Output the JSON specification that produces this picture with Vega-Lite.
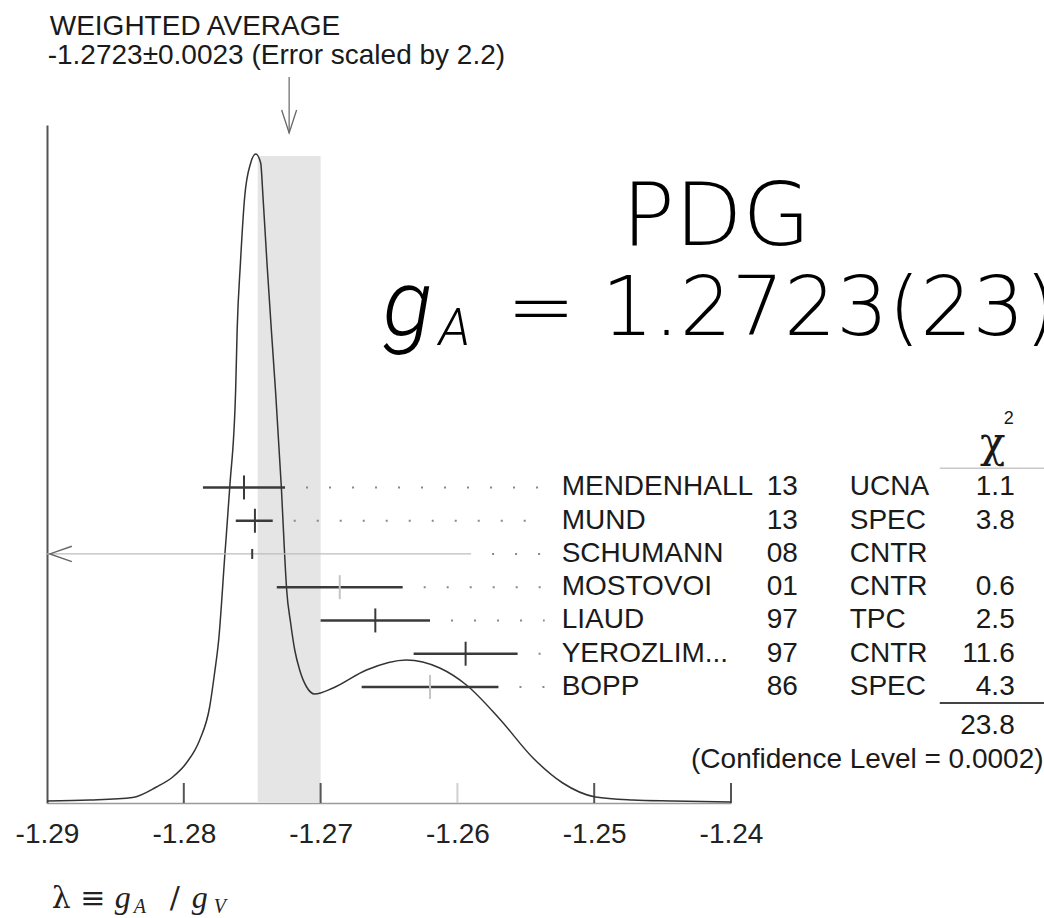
{
  "$schema": "https://vega.github.io/schema/vega-lite/v6.json",
  "width": 684,
  "height": 678,
  "autosize": {"type": "none"},
  "padding": {"left": 47, "top": 125, "right": 313, "bottom": 115},
  "background": "white",
  "config": {"view": {"stroke": null}, "axis": {"grid": false}},
  "datasets": {
    "ideogram": [
      {"x": -1.29, "y": 2}, {"x": -1.28688, "y": 3}, {"x": -1.28374, "y": 5.5}, {"x": -1.282, "y": 16},
      {"x": -1.28081, "y": 26}, {"x": -1.27981, "y": 40}, {"x": -1.27884, "y": 63}, {"x": -1.27811, "y": 96},
      {"x": -1.27774, "y": 131}, {"x": -1.27745, "y": 163}, {"x": -1.27701, "y": 246}, {"x": -1.27664, "y": 316},
      {"x": -1.27621, "y": 413}, {"x": -1.2761, "y": 473}, {"x": -1.27586, "y": 540}, {"x": -1.27555, "y": 606},
      {"x": -1.27511, "y": 640}, {"x": -1.27474, "y": 649}, {"x": -1.27438, "y": 640}, {"x": -1.27421, "y": 606},
      {"x": -1.27392, "y": 540}, {"x": -1.2736, "y": 473}, {"x": -1.2733, "y": 413}, {"x": -1.27287, "y": 316},
      {"x": -1.27262, "y": 246}, {"x": -1.27248, "y": 213}, {"x": -1.27219, "y": 180}, {"x": -1.27189, "y": 153},
      {"x": -1.27153, "y": 133}, {"x": -1.27102, "y": 116}, {"x": -1.27043, "y": 109}, {"x": -1.26909, "y": 115},
      {"x": -1.26665, "y": 133}, {"x": -1.26373, "y": 143}, {"x": -1.26129, "y": 135}, {"x": -1.25934, "y": 118},
      {"x": -1.25691, "y": 84}, {"x": -1.25447, "y": 45}, {"x": -1.2523, "y": 20}, {"x": -1.24991, "y": 6},
      {"x": -1.24719, "y": 3}, {"x": -1.24426, "y": 2}, {"x": -1.24002, "y": 1}
    ],
    "average": [{"value": -1.2723, "lo": -1.2746, "hi": -1.27}],
    "xticks": [{"value": -1.28}, {"value": -1.27}, {"value": -1.26}, {"value": -1.25}, {"value": -1.24}],
    "measurements": [
      {"name": "MENDENHALL", "year": "13", "tech": "UCNA", "chi2": 1.1, "value": -1.2756, "lo": -1.2786, "hi": -1.2726, "row": 1},
      {"name": "MUND", "year": "13", "tech": "SPEC", "chi2": 3.8, "value": -1.2748, "lo": -1.2762, "hi": -1.2735, "row": 2},
      {"name": "SCHUMANN", "year": "08", "tech": "CNTR", "chi2": null, "value": -1.275, "lo": -1.291, "hi": -1.259, "row": 3},
      {"name": "MOSTOVOI", "year": "01", "tech": "CNTR", "chi2": 0.6, "value": -1.2686, "lo": -1.2732, "hi": -1.264, "row": 4},
      {"name": "LIAUD", "year": "97", "tech": "TPC", "chi2": 2.5, "value": -1.266, "lo": -1.27, "hi": -1.262, "row": 5},
      {"name": "YEROZLIM...", "year": "97", "tech": "CNTR", "chi2": 11.6, "value": -1.2594, "lo": -1.2632, "hi": -1.2556, "row": 6},
      {"name": "BOPP", "year": "86", "tech": "SPEC", "chi2": 4.3, "value": -1.262, "lo": -1.267, "hi": -1.257, "row": 7}
    ],
    "summary": [
      {"text": "23.8", "x": -1.21926, "row": 8.18},
      {"text": "(Confidence Level = 0.0002)", "x": -1.21715, "row": 9.2}
    ],
    "titleLines": [
      {"text": "WEIGHTED AVERAGE", "x": -1.2898, "y": 768},
      {"text": "-1.2723±0.0023 (Error scaled by 2.2)", "x": -1.28995, "y": 739}
    ],
    "bigTitle": [{"text": "PDG", "x": -1.24799, "y": 558}],
    "bigValue": [{"text": "= 1.2723(23)", "x": -1.2564, "y": 468}],
    "bigItalic": [{"text": "g", "x": -1.26546, "y": 468}],
    "bigSub": [{"text": "A", "x": -1.26137, "y": 458}],
    "lambdaRoman": [
      {"text": "λ ≡", "x": -1.28966, "y": -105},
      {"text": "/", "x": -1.28103, "y": -105}
    ],
    "lambdaItalic": [
      {"text": "g", "x": -1.28505, "y": -105},
      {"text": "g", "x": -1.27942, "y": -105}
    ],
    "lambdaSub": [
      {"text": "A", "x": -1.28366, "y": -110},
      {"text": "V", "x": -1.27781, "y": -110}
    ]
  },
  "resolve": {"scale": {"y": "independent"}},
  "layer": [
    {
      "layer": [
        {
          "data": {"name": "average"},
          "mark": {"type": "rect", "color": "#e5e5e5"},
          "encoding": {
            "x": {"field": "lo", "type": "quantitative", "title": null,
              "scale": {"domain": [-1.29, -1.24], "nice": false, "zero": false},
              "axis": {"values": [-1.29, -1.28, -1.27, -1.26, -1.25, -1.24],
                "labelExpr": "'-' + format(abs(datum.value), '.2f')",
                "title": null, "domainColor": "#9a9a9a", "domainWidth": 1.5, "ticks": false, "tickSize": 0,
                "labelFont": "Liberation Sans", "labelFontSize": 28, "labelColor": "#222", "labelPadding": 17,
                "labelFlush": false, "labelOverlap": false, "labelBound": false, "grid": false}},
            "x2": {"field": "hi"},
            "y": {"datum": 0, "type": "quantitative", "title": null,
              "scale": {"domain": [0, 678], "nice": false, "zero": false},
              "axis": {"domain": true, "domainColor": "#555", "domainWidth": 2, "ticks": false, "labels": false, "title": null, "grid": false}},
            "y2": {"datum": 647}
          }
        },
        {
          "data": {"name": "xticks"},
          "mark": {"type": "rule", "strokeWidth": 2},
          "encoding": {
            "x": {"field": "value", "type": "quantitative", "title": null, "scale": {"domain": [-1.29, -1.24], "nice": false, "zero": false}},
            "y": {"datum": 0, "type": "quantitative", "scale": {"domain": [0, 678], "nice": false, "zero": false}},
            "y2": {"datum": 20},
            "color": {"condition": {"test": "datum.value == -1.26", "value": "#d0d0d0"}, "value": "#555"}
          }
        },
        {
          "data": {"name": "ideogram"},
          "mark": {"type": "line", "color": "#333", "strokeWidth": 1.5, "interpolate": "monotone"},
          "encoding": {
            "x": {"field": "x", "type": "quantitative", "title": null, "scale": {"domain": [-1.29, -1.24], "nice": false, "zero": false}},
            "y": {"field": "y", "type": "quantitative", "title": null, "scale": {"domain": [0, 678], "nice": false, "zero": false}}
          }
        },
        {
          "data": {"name": "average"},
          "mark": {"type": "rule", "color": "#666", "strokeWidth": 1.2},
          "encoding": {
            "x": {"field": "value", "type": "quantitative", "title": null, "scale": {"domain": [-1.29, -1.24], "nice": false, "zero": false}},
            "y": {"datum": 726, "type": "quantitative", "scale": {"domain": [0, 678], "nice": false, "zero": false}},
            "y2": {"datum": 670}
          }
        },
        {
          "data": {"name": "average"},
          "mark": {"type": "point", "shape": "M-0.65,-1L0,1L0.65,-1", "size": 529, "filled": false, "stroke": "#666", "strokeWidth": 1.3, "opacity": 1},
          "encoding": {
            "x": {"field": "value", "type": "quantitative", "title": null, "scale": {"domain": [-1.29, -1.24], "nice": false, "zero": false}},
            "y": {"datum": 681.5, "type": "quantitative", "scale": {"domain": [0, 678], "nice": false, "zero": false}}
          }
        },
        {
          "data": {"name": "titleLines"},
          "mark": {"type": "text", "align": "left", "baseline": "alphabetic", "font": "Liberation Sans", "fontSize": 28, "color": "#1a1a1a"},
          "encoding": {
            "x": {"field": "x", "type": "quantitative", "title": null, "scale": {"domain": [-1.29, -1.24], "nice": false, "zero": false}},
            "y": {"field": "y", "type": "quantitative", "title": null, "scale": {"domain": [0, 678], "nice": false, "zero": false}},
            "text": {"field": "text"}
          }
        },
        {
          "data": {"name": "bigTitle"},
          "mark": {"type": "text", "align": "left", "baseline": "alphabetic", "font": "DejaVu Sans", "fontWeight": 200, "fontSize": 88, "color": "#000"},
          "encoding": {
            "x": {"field": "x", "type": "quantitative", "title": null, "scale": {"domain": [-1.29, -1.24], "nice": false, "zero": false}},
            "y": {"field": "y", "type": "quantitative", "title": null, "scale": {"domain": [0, 678], "nice": false, "zero": false}},
            "text": {"field": "text"}
          }
        },
        {
          "data": {"name": "bigValue"},
          "mark": {"type": "text", "align": "left", "baseline": "alphabetic", "font": "DejaVu Sans", "fontWeight": 200, "fontSize": 82, "color": "#000"},
          "encoding": {
            "x": {"field": "x", "type": "quantitative", "title": null, "scale": {"domain": [-1.29, -1.24], "nice": false, "zero": false}},
            "y": {"field": "y", "type": "quantitative", "title": null, "scale": {"domain": [0, 678], "nice": false, "zero": false}},
            "text": {"field": "text"}
          }
        },
        {
          "data": {"name": "bigItalic"},
          "mark": {"type": "text", "align": "left", "baseline": "alphabetic", "font": "Roboto", "fontWeight": 300, "fontStyle": "italic", "fontSize": 92, "color": "#000"},
          "encoding": {
            "x": {"field": "x", "type": "quantitative", "title": null, "scale": {"domain": [-1.29, -1.24], "nice": false, "zero": false}},
            "y": {"field": "y", "type": "quantitative", "title": null, "scale": {"domain": [0, 678], "nice": false, "zero": false}},
            "text": {"field": "text"}
          }
        },
        {
          "data": {"name": "bigSub"},
          "mark": {"type": "text", "align": "left", "baseline": "alphabetic", "font": "Roboto", "fontWeight": 300, "fontStyle": "italic", "fontSize": 52, "color": "#000"},
          "encoding": {
            "x": {"field": "x", "type": "quantitative", "title": null, "scale": {"domain": [-1.29, -1.24], "nice": false, "zero": false}},
            "y": {"field": "y", "type": "quantitative", "title": null, "scale": {"domain": [0, 678], "nice": false, "zero": false}},
            "text": {"field": "text"}
          }
        },
        {
          "data": {"name": "lambdaRoman"},
          "mark": {"type": "text", "align": "left", "baseline": "alphabetic", "font": "DejaVu Serif", "fontSize": 30, "color": "#222"},
          "encoding": {
            "x": {"field": "x", "type": "quantitative", "title": null, "scale": {"domain": [-1.29, -1.24], "nice": false, "zero": false}},
            "y": {"field": "y", "type": "quantitative", "title": null, "scale": {"domain": [0, 678], "nice": false, "zero": false}},
            "text": {"field": "text"}
          }
        },
        {
          "data": {"name": "lambdaItalic"},
          "mark": {"type": "text", "align": "left", "baseline": "alphabetic", "font": "Liberation Serif", "fontStyle": "italic", "fontSize": 32, "color": "#222"},
          "encoding": {
            "x": {"field": "x", "type": "quantitative", "title": null, "scale": {"domain": [-1.29, -1.24], "nice": false, "zero": false}},
            "y": {"field": "y", "type": "quantitative", "title": null, "scale": {"domain": [0, 678], "nice": false, "zero": false}},
            "text": {"field": "text"}
          }
        },
        {
          "data": {"name": "lambdaSub"},
          "mark": {"type": "text", "align": "left", "baseline": "alphabetic", "font": "Liberation Serif", "fontStyle": "italic", "fontSize": 20, "color": "#222"},
          "encoding": {
            "x": {"field": "x", "type": "quantitative", "title": null, "scale": {"domain": [-1.29, -1.24], "nice": false, "zero": false}},
            "y": {"field": "y", "type": "quantitative", "title": null, "scale": {"domain": [0, 678], "nice": false, "zero": false}},
            "text": {"field": "text"}
          }
        }
      ]
    },
    {
      "layer": [
        {
          "data": {"name": "measurements"},
          "mark": {"type": "rule", "color": "#888", "strokeWidth": 2, "strokeDash": [0, 21, 2, 0]},
          "encoding": {
            "x": {"field": "hi", "type": "quantitative", "title": null, "scale": {"domain": [-1.29, -1.24], "nice": false, "zero": false}},
            "x2": {"datum": -1.25362},
            "y": {"field": "row", "type": "quantitative", "title": null, "axis": null, "scale": {"domain": [-9.9, 10.49], "reverse": true, "nice": false, "zero": false}}
          }
        },
        {
          "data": {"name": "measurements"},
          "mark": {"type": "rule", "clip": true},
          "encoding": {
            "x": {"field": "lo", "type": "quantitative", "title": null, "scale": {"domain": [-1.29, -1.24], "nice": false, "zero": false}},
            "x2": {"field": "hi"},
            "y": {"field": "row", "type": "quantitative", "title": null, "axis": null, "scale": {"domain": [-9.9, 10.49], "reverse": true, "nice": false, "zero": false}},
            "color": {"condition": {"test": "datum.name == 'SCHUMANN'", "value": "#bdbdbd"}, "value": "#3a3a3a"},
            "strokeWidth": {"condition": {"test": "datum.name == 'SCHUMANN'", "value": 1.3}, "value": 2.5}
          }
        },
        {
          "data": {"name": "measurements"},
          "mark": {"type": "tick", "orient": "vertical", "thickness": 2, "opacity": 1},
          "encoding": {
            "x": {"field": "value", "type": "quantitative", "title": null, "scale": {"domain": [-1.29, -1.24], "nice": false, "zero": false}},
            "y": {"field": "row", "type": "quantitative", "title": null, "axis": null, "scale": {"domain": [-9.9, 10.49], "reverse": true, "nice": false, "zero": false}},
            "color": {"condition": {"test": "datum.name == 'MOSTOVOI' || datum.name == 'BOPP'", "value": "#c4c4c4"}, "value": "#3a3a3a"},
            "size": {"condition": {"test": "datum.name == 'SCHUMANN'", "value": 10}, "value": 24}
          }
        },
        {
          "data": {"name": "measurements"},
          "transform": [{"filter": "datum.lo < -1.29"}],
          "mark": {"type": "point", "shape": "M1,-0.7L-1,0L1,0.7", "size": 484, "filled": false, "stroke": "#666", "strokeWidth": 1.4, "opacity": 1},
          "encoding": {
            "x": {"datum": -1.28899, "type": "quantitative", "scale": {"domain": [-1.29, -1.24], "nice": false, "zero": false}},
            "y": {"field": "row", "type": "quantitative", "title": null, "axis": null, "scale": {"domain": [-9.9, 10.49], "reverse": true, "nice": false, "zero": false}}
          }
        },
        {
          "data": {"name": "measurements"},
          "mark": {"type": "text", "align": "left", "baseline": "middle", "font": "Liberation Sans", "fontSize": 28, "color": "#1a1a1a"},
          "encoding": {
            "x": {"datum": -1.25238, "type": "quantitative", "scale": {"domain": [-1.29, -1.24], "nice": false, "zero": false}},
            "y": {"field": "row", "type": "quantitative", "title": null, "axis": null, "scale": {"domain": [-9.9, 10.49], "reverse": true, "nice": false, "zero": false}},
            "text": {"field": "name"}
          }
        },
        {
          "data": {"name": "measurements"},
          "mark": {"type": "text", "align": "left", "baseline": "middle", "font": "Liberation Sans", "fontSize": 28, "color": "#1a1a1a"},
          "encoding": {
            "x": {"datum": -1.23739, "type": "quantitative", "scale": {"domain": [-1.29, -1.24], "nice": false, "zero": false}},
            "y": {"field": "row", "type": "quantitative", "title": null, "axis": null, "scale": {"domain": [-9.9, 10.49], "reverse": true, "nice": false, "zero": false}},
            "text": {"field": "year"}
          }
        },
        {
          "data": {"name": "measurements"},
          "mark": {"type": "text", "align": "left", "baseline": "middle", "font": "Liberation Sans", "fontSize": 28, "color": "#1a1a1a"},
          "encoding": {
            "x": {"datum": -1.23132, "type": "quantitative", "scale": {"domain": [-1.29, -1.24], "nice": false, "zero": false}},
            "y": {"field": "row", "type": "quantitative", "title": null, "axis": null, "scale": {"domain": [-9.9, 10.49], "reverse": true, "nice": false, "zero": false}},
            "text": {"field": "tech"}
          }
        },
        {
          "data": {"name": "measurements"},
          "transform": [{"filter": "isValid(datum.chi2)"}],
          "mark": {"type": "text", "align": "right", "baseline": "middle", "font": "Liberation Sans", "fontSize": 28, "color": "#1a1a1a"},
          "encoding": {
            "x": {"datum": -1.21926, "type": "quantitative", "scale": {"domain": [-1.29, -1.24], "nice": false, "zero": false}},
            "y": {"field": "row", "type": "quantitative", "title": null, "axis": null, "scale": {"domain": [-9.9, 10.49], "reverse": true, "nice": false, "zero": false}},
            "text": {"field": "chi2", "type": "quantitative", "format": ".1f"}
          }
        },
        {
          "data": {"name": "summary"},
          "mark": {"type": "text", "align": "right", "baseline": "middle", "font": "Liberation Sans", "fontSize": 28, "color": "#1a1a1a"},
          "encoding": {
            "x": {"field": "x", "type": "quantitative", "title": null, "scale": {"domain": [-1.29, -1.24], "nice": false, "zero": false}},
            "y": {"field": "row", "type": "quantitative", "title": null, "axis": null, "scale": {"domain": [-9.9, 10.49], "reverse": true, "nice": false, "zero": false}},
            "text": {"field": "text"}
          }
        },
        {
          "data": {"values": [{"label": "χ"}]},
          "mark": {"type": "text", "align": "center", "baseline": "middle", "font": "DejaVu Serif", "fontSize": 42, "color": "#1a1a1a"},
          "encoding": {
            "x": {"datum": -1.22087, "type": "quantitative", "scale": {"domain": [-1.29, -1.24], "nice": false, "zero": false}},
            "y": {"datum": -0.3, "type": "quantitative", "axis": null, "scale": {"domain": [-9.9, 10.49], "reverse": true, "nice": false, "zero": false}},
            "text": {"field": "label"}
          }
        },
        {
          "data": {"values": [{"label": "2"}]},
          "mark": {"type": "text", "align": "center", "baseline": "middle", "font": "Liberation Sans", "fontSize": 18, "color": "#1a1a1a"},
          "encoding": {
            "x": {"datum": -1.2197, "type": "quantitative", "scale": {"domain": [-1.29, -1.24], "nice": false, "zero": false}},
            "y": {"datum": -1.06, "type": "quantitative", "axis": null, "scale": {"domain": [-9.9, 10.49], "reverse": true, "nice": false, "zero": false}},
            "text": {"field": "label"}
          }
        },
        {
          "data": {"values": [{"row": 0.42, "kind": "header"}, {"row": 7.48, "kind": "total"}]},
          "mark": {"type": "rule"},
          "encoding": {
            "x": {"datum": -1.22474, "type": "quantitative", "scale": {"domain": [-1.29, -1.24], "nice": false, "zero": false}},
            "x2": {"datum": -1.2165},
            "y": {"field": "row", "type": "quantitative", "title": null, "axis": null, "scale": {"domain": [-9.9, 10.49], "reverse": true, "nice": false, "zero": false}},
            "color": {"condition": {"test": "datum.kind == 'header'", "value": "#c8c8c8"}, "value": "#444"},
            "strokeWidth": {"condition": {"test": "datum.kind == 'header'", "value": 1.5}, "value": 2}
          }
        }
      ]
    }
  ]
}
